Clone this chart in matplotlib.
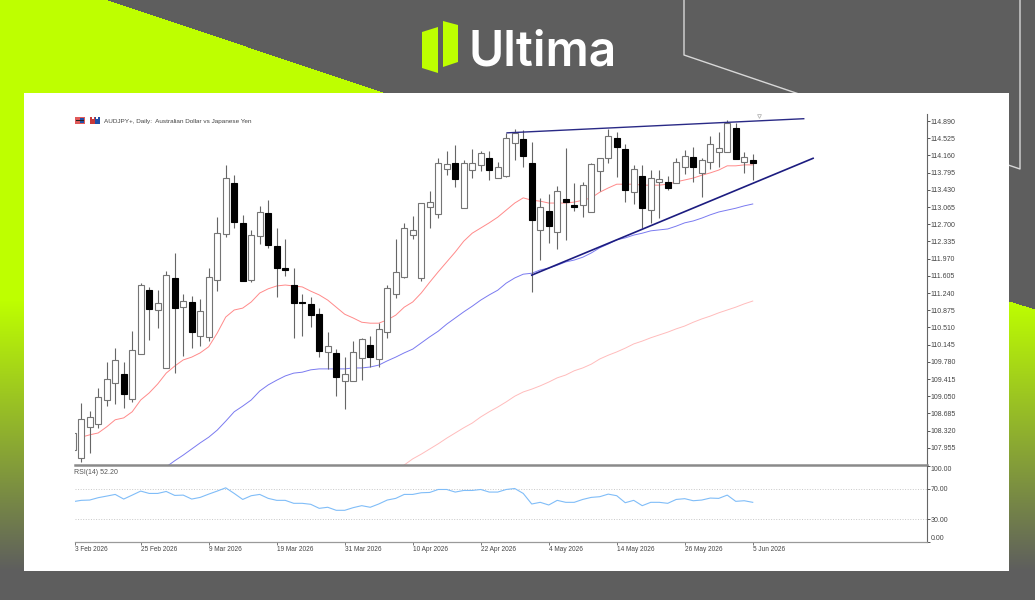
import numpy as np
import matplotlib
matplotlib.use('Agg')
import matplotlib.pyplot as plt
from matplotlib.patches import Polygon, Rectangle

# daily candles, index 0 is the half hidden one at the left edge
opens = [107.91, 107.74, 108.40, 108.46, 108.97, 109.33, 109.52, 108.99, 109.95, 111.30,
         110.88, 109.65, 111.56, 110.94, 111.05, 110.33, 110.31, 111.52, 112.49, 113.57,
         112.73, 111.52, 112.45, 112.94, 112.24, 111.77, 111.41, 111.05, 111.01, 110.79,
         109.99, 109.97, 109.37, 109.37, 109.86, 110.14, 109.84, 110.41, 111.22, 111.58,
         112.47, 111.56, 113.06, 112.92, 113.87, 114.00, 113.04, 113.85, 113.96, 114.10,
         113.68, 113.72, 114.42, 114.51, 114.00, 112.58, 112.98, 112.53, 113.23, 113.11,
         113.11, 112.96, 113.83, 114.10, 114.53, 114.30, 113.38, 113.72, 113.00, 113.60,
         113.60, 113.57, 113.91, 114.13, 113.79, 114.02, 114.23, 114.23, 114.74, 114.02,
         114.06]
highs = [108.31, 108.91, 108.74, 109.22, 109.78, 110.07, 109.78, 110.43, 111.45, 111.37,
         111.30, 111.71, 112.09, 111.22, 111.18, 111.11, 111.77, 112.85, 113.96, 113.74,
         112.90, 112.58, 113.09, 113.21, 112.62, 112.39, 111.77, 111.22, 111.16, 110.92,
         110.41, 110.05, 109.88, 110.22, 110.29, 110.33, 110.60, 111.41, 112.39, 112.73,
         112.87, 113.15, 113.40, 114.10, 114.25, 114.38, 114.06, 114.30, 114.25, 114.25,
         114.02, 114.64, 114.72, 114.70, 114.44, 113.26, 113.34, 113.51, 114.32, 113.57,
         113.60, 114.00, 114.10, 114.72, 114.66, 114.40, 113.96, 113.96, 113.85, 113.85,
         113.72, 114.10, 114.27, 114.34, 114.10, 114.57, 114.66, 114.91, 114.85, 114.23,
         114.19]
lows = [107.87, 107.65, 107.85, 108.38, 108.84, 108.88, 108.80, 108.93, 109.95, 110.24,
        110.50, 109.65, 109.54, 109.90, 110.07, 110.12, 110.22, 111.28, 112.43, 112.62,
        111.50, 111.47, 112.28, 112.20, 111.16, 111.60, 110.29, 110.33, 110.52, 109.88,
        109.63, 109.05, 108.78, 109.37, 109.39, 109.67, 109.67, 110.29, 111.13, 111.56,
        112.39, 111.50, 112.62, 112.83, 113.74, 113.49, 113.04, 113.68, 113.83, 113.64,
        113.68, 113.70, 114.06, 113.91, 111.26, 111.94, 112.30, 112.17, 112.36, 112.98,
        112.85, 112.96, 113.40, 114.00, 113.70, 113.17, 113.13, 112.62, 112.73, 112.83,
        113.43, 113.57, 113.77, 113.60, 113.28, 113.87, 113.91, 114.23, 114.08, 113.79,
        113.64]
closes = [108.27, 108.57, 108.61, 109.03, 109.42, 109.82, 109.10, 110.03, 111.41, 110.90,
          111.03, 111.62, 110.92, 111.07, 110.41, 110.86, 111.58, 112.51, 113.68, 112.75,
          111.50, 112.47, 112.96, 112.26, 111.77, 111.73, 111.03, 111.03, 110.77, 110.01,
          110.12, 109.46, 109.52, 109.99, 110.26, 109.88, 110.48, 111.35, 111.69, 112.62,
          112.58, 113.15, 113.17, 114.00, 113.98, 113.66, 114.00, 114.00, 114.21, 113.85,
          113.91, 114.53, 114.64, 114.15, 112.79, 113.06, 112.66, 113.40, 113.17, 113.06,
          113.53, 113.98, 114.10, 114.57, 114.34, 113.43, 113.87, 113.04, 113.68, 113.66,
          113.47, 114.02, 114.15, 113.91, 114.06, 114.40, 114.32, 114.85, 114.08, 114.13,
          114.00]

# moving averages, each one ends on the last candle
ma_red = [108.18, 108.23, 108.27, 108.40, 108.55, 108.59, 108.72, 108.97, 109.12, 109.31,
          109.54, 109.69, 109.82, 109.88, 109.97, 110.10, 110.39, 110.73, 110.88, 110.92,
          111.05, 111.24, 111.33, 111.39, 111.41, 111.39, 111.37, 111.28, 111.20, 111.09,
          110.94, 110.79, 110.71, 110.62, 110.60, 110.60, 110.67, 110.77, 110.94, 111.05,
          111.24, 111.47, 111.69, 111.90, 112.11, 112.34, 112.51, 112.62, 112.73, 112.85,
          113.00, 113.15, 113.26, 113.21, 113.19, 113.15, 113.15, 113.15, 113.17, 113.21,
          113.26, 113.38, 113.47, 113.55, 113.55, 113.55, 113.53, 113.53, 113.53, 113.55,
          113.60, 113.64, 113.68, 113.74, 113.79, 113.85, 113.94, 113.94, 113.96, 113.96]
ma_blue = [107.55, 107.68, 107.80, 107.93, 108.06, 108.18, 108.33, 108.52, 108.72, 108.84,
           108.97, 109.16, 109.29, 109.39, 109.48, 109.54, 109.56, 109.61, 109.63, 109.63,
           109.63, 109.63, 109.65, 109.65, 109.67, 109.71, 109.80, 109.88, 109.97, 110.05,
           110.18, 110.31, 110.43, 110.58, 110.71, 110.84, 110.96, 111.09, 111.20, 111.30,
           111.45, 111.56, 111.64, 111.66, 111.73, 111.77, 111.83, 111.90, 111.94, 112.00,
           112.09, 112.20, 112.28, 112.37, 112.41, 112.47, 112.51, 112.56, 112.58, 112.60,
           112.66, 112.73, 112.77, 112.83, 112.90, 112.96, 113.00, 113.04, 113.09, 113.13]
ma_pink = [107.59, 107.72, 107.82, 107.93, 108.04, 108.16, 108.27, 108.38, 108.48, 108.61,
           108.72, 108.82, 108.93, 109.05, 109.14, 109.20, 109.27, 109.35, 109.44, 109.50,
           109.59, 109.65, 109.73, 109.84, 109.92, 109.99, 110.07, 110.16, 110.22, 110.29,
           110.35, 110.41, 110.48, 110.54, 110.62, 110.69, 110.75, 110.82, 110.88, 110.94,
           111.01, 111.07]

rsi = [53.0, 54.8, 55.2, 58.3, 60.4, 62.6, 56.5, 61.7, 67.0, 63.9,
       63.9, 66.5, 61.3, 61.7, 56.5, 58.7, 63.0, 67.0, 71.3, 63.9,
       56.0, 60.9, 62.6, 57.4, 54.8, 54.8, 50.9, 50.9, 49.6, 44.3,
       45.7, 41.7, 41.7, 45.2, 47.8, 45.7, 50.0, 55.2, 57.4, 62.6,
       62.6, 64.8, 65.2, 69.1, 69.1, 65.7, 67.8, 67.8, 69.1, 65.7,
       65.7, 69.1, 70.4, 63.9, 50.0, 52.2, 48.7, 54.8, 52.2, 52.2,
       56.0, 58.7, 59.6, 63.0, 60.9, 51.7, 54.8, 47.8, 52.2, 52.2,
       50.9, 56.0, 57.0, 54.3, 55.2, 57.8, 57.4, 61.7, 53.5, 54.3,
       52.2]

# trend lines as (candle index, price) pairs
upper_x = [51.1, 86.0]
upper_y = [114.64, 114.94]
lower_x = [54.0, 87.1]
lower_y = [111.62, 114.10]

price_ticks = [114.890, 114.525, 114.160, 113.795, 113.430, 113.065, 112.700,
               112.335, 111.970, 111.605, 111.240, 110.875, 110.510, 110.145,
               109.780, 109.415, 109.050, 108.685, 108.320, 107.955]
rsi_ticks = [0, 30, 70, 100]
rsi_labels = ['0.00', '30.00', '70.00', '100.00']
# the first date is cut by the chart edge in the original
date_pos = [0.3, 8, 16, 24, 32, 40, 48, 56, 64, 72, 80]
date_labels = ['3 Feb 2026', '25 Feb 2026', '9 Mar 2026', '19 Mar 2026', '31 Mar 2026',
               '10 Apr 2026', '22 Apr 2026', '4 May 2026', '14 May 2026', '26 May 2026',
               '5 Jun 2026']

LIME = np.array([190, 255, 0]) / 255
GRAY = np.array([94, 94, 94]) / 255
W, H = 1035, 600

plt.rcParams['font.family'] = ['Liberation Sans', 'DejaVu Sans']
fig = plt.figure(figsize=(W / 100, H / 100), dpi=100)


def px_axes(zorder):
    a = fig.add_axes([0, 0, 1, 1], zorder=zorder)
    a.set_xlim(0, W)
    a.set_ylim(H, 0)
    a.axis('off')
    return a


def fig_rect(left, top, right, bottom):
    return [left / W, 1 - bottom / H, (right - left) / W, (bottom - top) / H]


# background banner: lime wedge on the left and right, fading to gray at the bottom
bg = px_axes(0)
yy, xx = np.mgrid[0:H, 0:W]
left_lime = (yy > (xx - 108) * 93 / 277) & (xx < 400)
right_lime = (yy > 301 + (xx - 1009) * 0.31) & (xx > 900)
fade = np.clip((yy - 300) / 270, 0, 1)
fade = np.where(left_lime | right_lime, fade, 1.0)[..., None]
bg.imshow(LIME * (1 - fade) + GRAY * fade, extent=(0, W, H, 0), aspect='auto', interpolation='nearest')
bg.set_xlim(0, W)
bg.set_ylim(H, 0)
bg.plot([684, 684, 1020, 1020], [0, 55, 169, 0], color='#d8d8d8', lw=1.0)
bg.add_patch(Rectangle((24, 93), 985, 478, fc='white', ec='none', zorder=3))

# logo
bg.add_patch(Polygon([(422, 32), (438, 27), (438, 73), (422, 68)], fc='#beff00', ec='none'))
bg.add_patch(Polygon([(443, 21), (458, 25), (458, 62), (443, 67)], fc='#beff00', ec='none'))
bg.text(468, 66, 'Ultima', color='white', fontsize=34.5, fontweight='semibold', family='Inter',
        ha='left', va='baseline')

# main price chart
x = np.arange(len(opens))
ax = fig.add_axes(fig_rect(75, 114, 927, 465), zorder=2)
ax.set_facecolor('none')
ax.set_xlim(0.27, 100.5)
ax.set_ylim(107.59, 115.04)

ax.plot(x[1:], ma_red, color='#ff8a8a', lw=0.7, zorder=1)
ax.plot(x[11:], ma_blue, color='#7a7af0', lw=0.7, zorder=1)
ax.plot(x[39:], ma_pink, color='#ffbcbc', lw=0.7, zorder=1)

for i in x:
    ax.vlines(i, lows[i], highs[i], color='#666666', lw=0.8, zorder=2)
    body_low = min(opens[i], closes[i])
    body_h = abs(closes[i] - opens[i])
    if closes[i] >= opens[i]:
        ax.bar(i, body_h, bottom=body_low, width=0.66, facecolor='white', edgecolor='#757575', lw=0.8, zorder=3)
    else:
        ax.bar(i, body_h, bottom=body_low, width=0.66, facecolor='black', edgecolor='black', lw=0.8, zorder=3)

ax.plot(upper_x, upper_y, color='#2a2a86', lw=1.0, zorder=4)
ax.plot(lower_x, lower_y, color='#1c1c80', lw=1.2, zorder=4)

ax.set_xticks([])
ax.set_yticks(price_ticks)
ax.set_yticklabels(['%.3f' % p for p in price_ticks])
ax.yaxis.tick_right()
ax.tick_params(axis='y', length=2.2, width=0.7, color='#555555', labelsize=5.0, labelcolor='#444444', pad=0.3)
ax.spines['left'].set_visible(False)
ax.spines['top'].set_visible(False)
ax.spines['right'].set_color('#666666')
ax.spines['right'].set_linewidth(0.8)
ax.spines['bottom'].set_color('#8a8a8a')
ax.spines['bottom'].set_linewidth(1.8)

# RSI panel
ax2 = fig.add_axes(fig_rect(75, 466, 927, 542), zorder=2)
ax2.set_facecolor('none')
ax2.set_xlim(0.27, 100.5)
ax2.set_ylim(0, 100)
ax2.axhline(70, color='#c8c8c8', lw=0.7, ls=':', zorder=1)
ax2.axhline(30, color='#c8c8c8', lw=0.7, ls=':', zorder=1)
ax2.plot(x, rsi, color='#80bdf8', lw=0.8, zorder=2)
ax2.set_yticks(rsi_ticks)
ax2.set_yticklabels(rsi_labels)
ax2.yaxis.tick_right()
ax2.tick_params(axis='y', length=2.2, width=0.7, color='#555555', labelsize=5.0, labelcolor='#444444', pad=0.3)
ylabs = ax2.get_yticklabels()
ylabs[0].set_va('bottom')
ylabs[-1].set_va('top')
ax2.set_xticks(date_pos)
ax2.set_xticklabels(date_labels, ha='left')
ax2.tick_params(axis='x', length=2.2, width=0.7, color='#777777', labelsize=4.7, labelcolor='#444444', pad=0.8)
ax2.spines['left'].set_visible(False)
ax2.spines['top'].set_visible(False)
ax2.spines['right'].set_color('#666666')
ax2.spines['right'].set_linewidth(0.8)
ax2.spines['bottom'].set_color('#9a9a9a')
ax2.spines['bottom'].set_linewidth(0.9)

# header text and the little toolbar icons
top = px_axes(3)
top.patch.set_alpha(0)
top.add_patch(Rectangle((75, 117), 10, 7, fc='#e05a5a', ec='none'))
top.add_patch(Rectangle((80, 118), 4, 5, fc='#1f4fa8', ec='none'))
top.add_patch(Rectangle((76, 120), 8, 1, fc='#222222', ec='none'))
top.add_patch(Rectangle((90, 117), 10, 7, fc='#c83a3a', ec='none'))
top.add_patch(Rectangle((95, 117), 5, 7, fc='#1f4fa8', ec='none'))
top.add_patch(Rectangle((92, 117), 2, 2, fc='white', ec='none'))
top.add_patch(Rectangle((96, 117), 2, 2, fc='white', ec='none'))
top.text(104, 121, 'AUDJPY+, Daily:  Australian Dollar vs Japanese Yen', fontsize=4.6, color='#444444',
         ha='left', va='center')
top.text(74, 472, 'RSI(14) 52.20', fontsize=5.0, color='#555555', ha='left', va='center')
top.plot([759], [115.5], marker='v', ms=2.8, mfc='none', mec='#b8b8b8', mew=0.6, ls='none')

fig.savefig('out.png', dpi=100)
